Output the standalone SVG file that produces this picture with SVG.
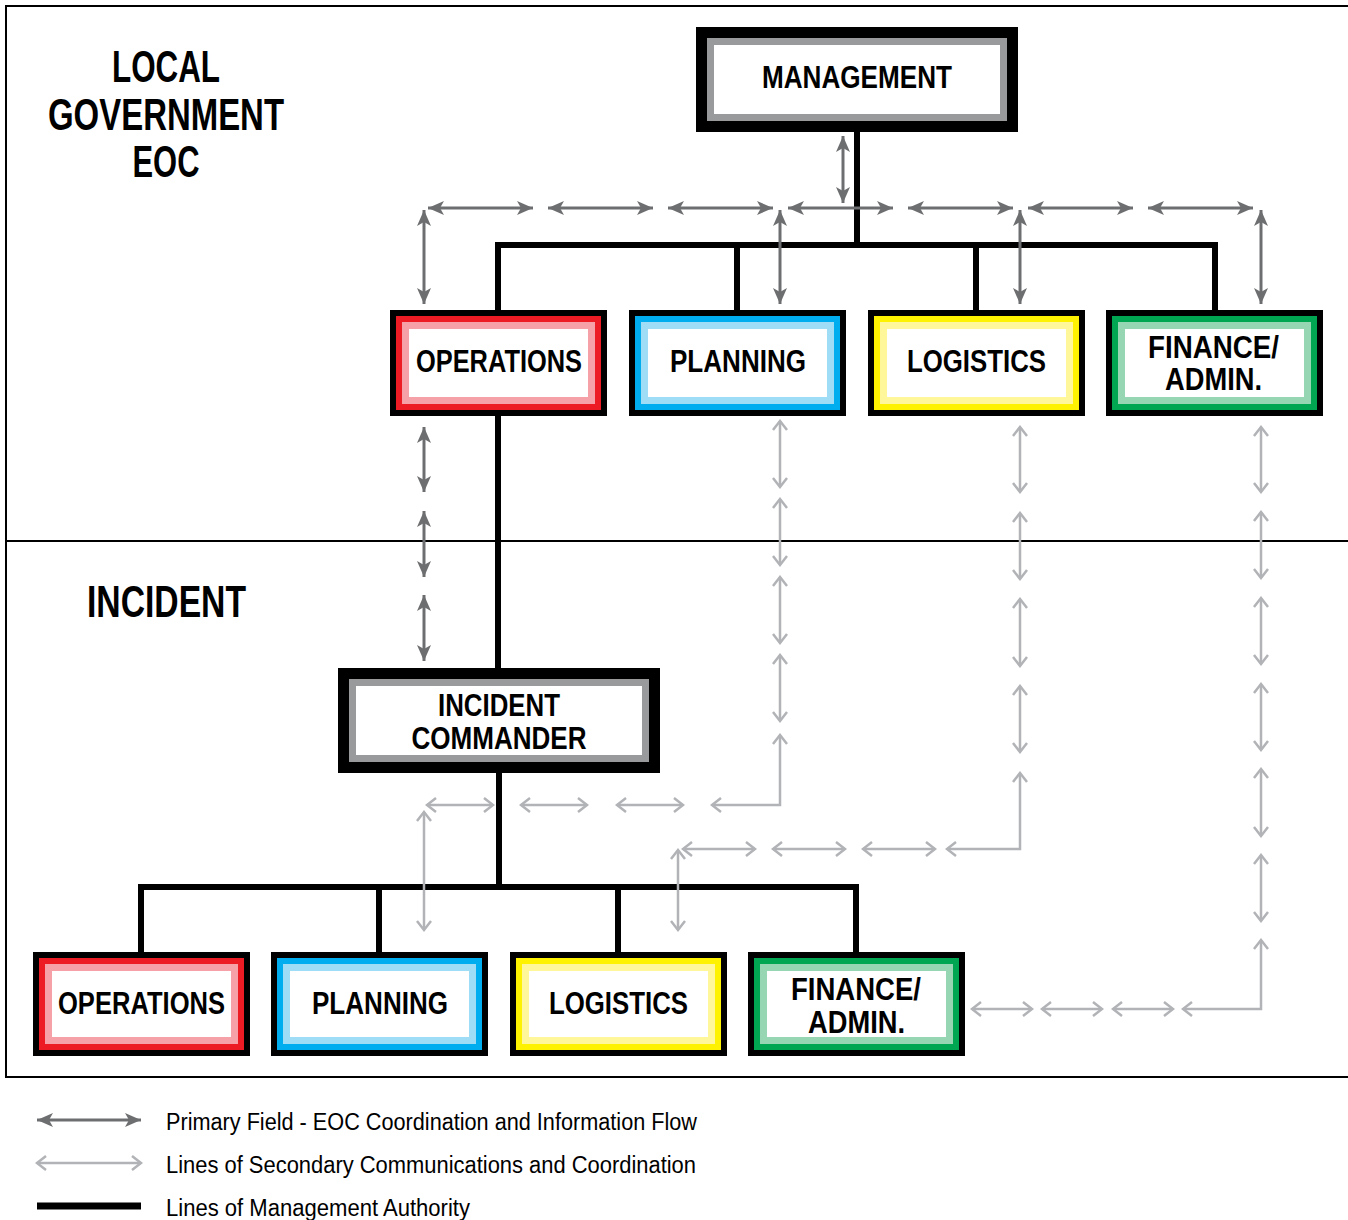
<svg xmlns="http://www.w3.org/2000/svg" width="1348" height="1220" viewBox="0 0 1348 1220">
<style>
.t{font-family:"Liberation Sans",Arial,sans-serif;font-weight:bold;fill:#000;text-anchor:middle}
.bx{font-size:31px}
.ti{font-size:44px}
.lg{font-family:"Liberation Sans",Arial,sans-serif;font-size:23px;fill:#000}
.auth{fill:none;stroke:#000;stroke-width:6}
.pri{fill:none;stroke:#6d6e70;stroke-width:3;marker-start:url(#ph);marker-end:url(#ph)}
.sec{fill:none;stroke:#b1b3b6;stroke-width:2.5;marker-start:url(#sh);marker-end:url(#sh)}
</style>
<defs>
<marker id="ph" markerUnits="userSpaceOnUse" markerWidth="16" markerHeight="14" viewBox="0 0 16 14" refX="16" refY="7" orient="auto-start-reverse">
<path d="M0,0 L16,7 L0,14 L4,7 Z" fill="#6d6e70"/>
</marker>
<marker id="sh" markerUnits="userSpaceOnUse" markerWidth="14" markerHeight="20" viewBox="-3 -3 14 20" refX="9" refY="7" orient="auto-start-reverse">
<path d="M0,0 L9,7 L0,14" fill="none" stroke="#b1b3b6" stroke-width="2.5"/>
</marker>
</defs>
<rect width="1348" height="1220" fill="#fff"/>
<g id="frame">
<rect x="6" y="6" width="1346" height="1071" fill="none" stroke="#000" stroke-width="2"/>
<line x1="6" y1="541" x2="1348" y2="541" stroke="#000" stroke-width="2"/>
</g>
<g id="titles">
<text class="t ti" x="166" y="82" textLength="108" lengthAdjust="spacingAndGlyphs">LOCAL</text>
<text class="t ti" x="166" y="130" textLength="236" lengthAdjust="spacingAndGlyphs">GOVERNMENT</text>
<text class="t ti" x="166" y="177" textLength="67" lengthAdjust="spacingAndGlyphs">EOC</text>
<text class="t ti" x="166.5" y="617" textLength="159" lengthAdjust="spacingAndGlyphs">INCIDENT</text>
</g>
<g id="connectors">
<path class="auth" d="M857,132 V245 M498,310 V245 H1215 V310 M737,245 V310 M976,245 V310 M498,416 V668 M499,773 V887 M141,952 V887 H856 V952 M379,887 V952 M618,887 V952"/>
<path class="pri" d="M428,208 H533"/>
<path class="pri" d="M548,208 H653"/>
<path class="pri" d="M668,208 H773"/>
<path class="pri" d="M788,208 H893"/>
<path class="pri" d="M908,208 H1013"/>
<path class="pri" d="M1028,208 H1133"/>
<path class="pri" d="M1148,208 H1253"/>
<path class="pri" d="M843,136 V203"/>
<path class="pri" d="M424,210 V304"/>
<path class="pri" d="M780,210 V304"/>
<path class="pri" d="M1020,210 V304"/>
<path class="pri" d="M1261,210 V304"/>
<path class="pri" d="M424,427 V492"/>
<path class="pri" d="M424,511 V577"/>
<path class="pri" d="M424,595 V661"/>
<path class="sec" d="M780,421 V487"/>
<path class="sec" d="M780,499 V565"/>
<path class="sec" d="M780,577 V643"/>
<path class="sec" d="M780,655 V721"/>
<path class="sec" d="M780,735 V805 H712"/>
<path class="sec" d="M427,805 H493"/>
<path class="sec" d="M521,805 H587"/>
<path class="sec" d="M617,805 H683"/>
<path class="sec" d="M424,812 V930"/>
<path class="sec" d="M1020,427 V492"/>
<path class="sec" d="M1020,513 V579"/>
<path class="sec" d="M1020,599 V666"/>
<path class="sec" d="M1020,686 V752"/>
<path class="sec" d="M1020,773 V849 H947"/>
<path class="sec" d="M683,849 H755"/>
<path class="sec" d="M773,849 H845"/>
<path class="sec" d="M863,849 H935"/>
<path class="sec" d="M678,850 V930"/>
<path class="sec" d="M1261,427 V492"/>
<path class="sec" d="M1261,512 V578"/>
<path class="sec" d="M1261,598 V664"/>
<path class="sec" d="M1261,684 V750"/>
<path class="sec" d="M1261,769 V836"/>
<path class="sec" d="M1261,855 V921"/>
<path class="sec" d="M1261,940 V1009 H1183"/>
<path class="sec" d="M972,1009 H1032"/>
<path class="sec" d="M1042,1009 H1102"/>
<path class="sec" d="M1113,1009 H1173"/>
</g>
<g id="management">
<rect x="696" y="27" width="322" height="105" fill="#000"/>
<rect x="707" y="38" width="300" height="83" fill="#999a9c"/>
<rect x="714" y="45" width="286" height="69" fill="#fff"/>
<text class="t bx" x="857" y="88" textLength="190" lengthAdjust="spacingAndGlyphs">MANAGEMENT</text>
</g>
<g id="eoc-operations">
<rect x="390" y="310" width="217" height="106" fill="#000"/>
<rect x="396" y="316" width="205" height="94" fill="#ed1c24"/>
<rect x="402" y="322" width="193" height="82" fill="#f6a1a7"/>
<rect x="409" y="329" width="179" height="68" fill="#fff"/>
<text class="t bx" x="499" y="372" textLength="166" lengthAdjust="spacingAndGlyphs">OPERATIONS</text>
</g>
<g id="eoc-planning">
<rect x="629" y="310" width="217" height="106" fill="#000"/>
<rect x="635" y="316" width="205" height="94" fill="#00aeef"/>
<rect x="641" y="322" width="193" height="82" fill="#9fdcf6"/>
<rect x="648" y="329" width="179" height="68" fill="#fff"/>
<text class="t bx" x="738" y="372" textLength="136" lengthAdjust="spacingAndGlyphs">PLANNING</text>
</g>
<g id="eoc-logistics">
<rect x="868" y="310" width="217" height="106" fill="#000"/>
<rect x="874" y="316" width="205" height="94" fill="#fff200"/>
<rect x="880" y="322" width="193" height="82" fill="#fff799"/>
<rect x="887" y="329" width="179" height="68" fill="#fff"/>
<text class="t bx" x="976.5" y="372" textLength="139" lengthAdjust="spacingAndGlyphs">LOGISTICS</text>
</g>
<g id="eoc-finance">
<rect x="1106" y="310" width="217" height="106" fill="#000"/>
<rect x="1112" y="316" width="205" height="94" fill="#00a651"/>
<rect x="1118" y="322" width="193" height="82" fill="#97d6b2"/>
<rect x="1125" y="329" width="179" height="68" fill="#fff"/>
<text class="t bx" x="1213.5" y="358" textLength="131" lengthAdjust="spacingAndGlyphs">FINANCE/</text>
<text class="t bx" x="1213.5" y="390" textLength="97" lengthAdjust="spacingAndGlyphs">ADMIN.</text>
</g>
<g id="incident-commander">
<rect x="338" y="668" width="322" height="105" fill="#000"/>
<rect x="349" y="679" width="300" height="83" fill="#999a9c"/>
<rect x="356" y="686" width="286" height="69" fill="#fff"/>
<text class="t bx" x="499" y="716" textLength="122" lengthAdjust="spacingAndGlyphs">INCIDENT</text>
<text class="t bx" x="499" y="749" textLength="175" lengthAdjust="spacingAndGlyphs">COMMANDER</text>
</g>
<g id="inc-operations">
<rect x="33" y="952" width="217" height="104" fill="#000"/>
<rect x="39" y="958" width="205" height="92" fill="#ed1c24"/>
<rect x="45" y="964" width="193" height="80" fill="#f6a1a7"/>
<rect x="52" y="971" width="179" height="66" fill="#fff"/>
<text class="t bx" x="141.5" y="1014" textLength="167" lengthAdjust="spacingAndGlyphs">OPERATIONS</text>
</g>
<g id="inc-planning">
<rect x="271" y="952" width="217" height="104" fill="#000"/>
<rect x="277" y="958" width="205" height="92" fill="#00aeef"/>
<rect x="283" y="964" width="193" height="80" fill="#9fdcf6"/>
<rect x="290" y="971" width="179" height="66" fill="#fff"/>
<text class="t bx" x="380" y="1014" textLength="136" lengthAdjust="spacingAndGlyphs">PLANNING</text>
</g>
<g id="inc-logistics">
<rect x="510" y="952" width="217" height="104" fill="#000"/>
<rect x="516" y="958" width="205" height="92" fill="#fff200"/>
<rect x="522" y="964" width="193" height="80" fill="#fff799"/>
<rect x="529" y="971" width="179" height="66" fill="#fff"/>
<text class="t bx" x="618.5" y="1014" textLength="139" lengthAdjust="spacingAndGlyphs">LOGISTICS</text>
</g>
<g id="inc-finance">
<rect x="748" y="952" width="217" height="104" fill="#000"/>
<rect x="754" y="958" width="205" height="92" fill="#00a651"/>
<rect x="760" y="964" width="193" height="80" fill="#97d6b2"/>
<rect x="767" y="971" width="179" height="66" fill="#fff"/>
<text class="t bx" x="856" y="1000" textLength="130" lengthAdjust="spacingAndGlyphs">FINANCE/</text>
<text class="t bx" x="856.5" y="1033" textLength="97" lengthAdjust="spacingAndGlyphs">ADMIN.</text>
</g>
<g id="legend">
<path class="pri" d="M37,1120 H141"/>
<path class="sec" d="M37,1163 H141"/>
<line x1="37" y1="1206" x2="141" y2="1206" stroke="#000" stroke-width="7"/>
<text class="lg" x="166" y="1130" textLength="531" lengthAdjust="spacingAndGlyphs">Primary Field - EOC Coordination and Information Flow</text>
<text class="lg" x="166" y="1173" textLength="530" lengthAdjust="spacingAndGlyphs">Lines of Secondary Communications and Coordination</text>
<text class="lg" x="166" y="1216" textLength="304" lengthAdjust="spacingAndGlyphs">Lines of Management Authority</text>
</g>
</svg>
